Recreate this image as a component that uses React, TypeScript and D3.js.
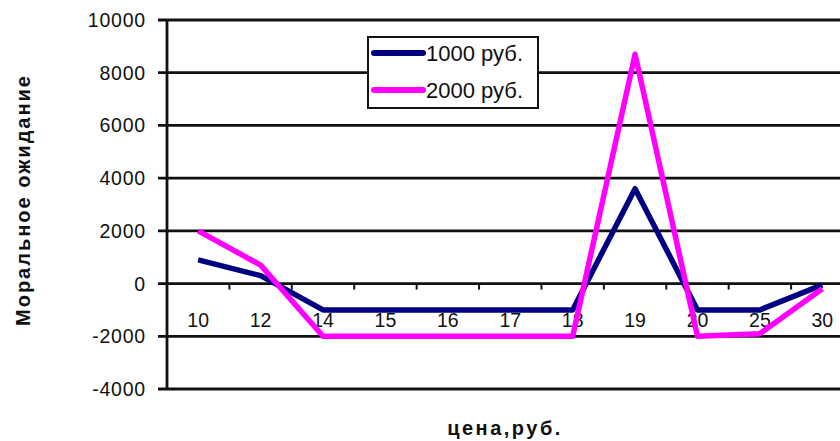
import { useEffect, useRef } from "react";
import * as d3 from "d3";

// ── Data ──────────────────────────────────────────────────────────────────────

const PRICES = ["10", "12", "14", "15", "16", "17", "18", "19", "20", "25", "30"];
const SERIES_1000 = [900, 300, -1000, -1000, -1000, -1000, -1000, 3600, -1000, -1000, -50];
const SERIES_2000 = [2000, 700, -2000, -2000, -2000, -2000, -2000, 8700, -2000, -1900, -200];
const Y_TICKS = [-4000, -2000, 0, 2000, 4000, 6000, 8000, 10000];
const SERIES_NAMES = ["1000 руб.", "2000 руб."];

// ── Config ────────────────────────────────────────────────────────────────────

const WIDTH = 840;
const HEIGHT = 441;
const PLOT = { left: 167, top: 20, bottom: 389, right: 853.5 };
const COLORS = ["#000080", "#FF00FF"];
const FONT = "'Liberation Sans', Arial, sans-serif";

// ── Component ─────────────────────────────────────────────────────────────────

const App = () => {
  const svgRef = useRef<SVGSVGElement>(null);

  useEffect(() => {
    if (!svgRef.current) return;
    document.body.style.margin = "0";

    const svg = d3.select(svgRef.current);
    svg.selectAll("*").remove();

    const x = d3.scaleBand<string>()
      .domain(PRICES)
      .range([PLOT.left, PLOT.right]);

    const y = d3.scaleLinear()
      .domain([-4000, 10000])
      .range([PLOT.bottom, PLOT.top]);

    // Grid lines + y ticks
    svg.append("g")
      .selectAll("line")
      .data(Y_TICKS)
      .join("line")
      .attr("x1", PLOT.left - 9)
      .attr("x2", WIDTH)
      .attr("y1", (d) => y(d))
      .attr("y2", (d) => y(d))
      .attr("stroke", "#111")
      .attr("stroke-width", 2.8);

    // Y axis line
    svg.append("line")
      .attr("x1", PLOT.left)
      .attr("x2", PLOT.left)
      .attr("y1", PLOT.top)
      .attr("y2", PLOT.bottom)
      .attr("stroke", "#111")
      .attr("stroke-width", 2.8);

    // Y tick labels
    svg.append("g")
      .selectAll("text")
      .data(Y_TICKS)
      .join("text")
      .attr("x", PLOT.left - 21)
      .attr("y", (d) => y(d) + 7)
      .attr("text-anchor", "end")
      .attr("font-family", FONT)
      .attr("font-size", 19.5)
      .attr("letter-spacing", 0.8)
      .attr("fill", "#111")
      .text((d) => String(d));

    // Category tick marks on the zero line (between categories)
    const boundaries = PRICES.slice(1).map((p) => x(p) ?? 0);
    svg.append("g")
      .selectAll("line")
      .data(boundaries)
      .join("line")
      .attr("x1", (d) => d)
      .attr("x2", (d) => d)
      .attr("y1", y(0))
      .attr("y2", y(0) + 6)
      .attr("stroke", "#111")
      .attr("stroke-width", 2);

    // Category labels
    svg.append("g")
      .selectAll("text")
      .data(PRICES)
      .join("text")
      .attr("x", (d) => (x(d) ?? 0) + x.bandwidth() / 2)
      .attr("y", y(0) + 43)
      .attr("text-anchor", "middle")
      .attr("font-family", FONT)
      .attr("font-size", 19.5)
      .attr("fill", "#111")
      .text((d) => d);

    // Lines
    const line = d3.line<number>()
      .x((_, i) => (x(PRICES[i]) ?? 0) + x.bandwidth() / 2)
      .y((d) => y(d));

    [SERIES_1000, SERIES_2000].forEach((series, i) => {
      svg.append("path")
        .datum(series)
        .attr("fill", "none")
        .attr("stroke", COLORS[i])
        .attr("stroke-width", 5.5)
        .attr("stroke-linejoin", "round")
        .attr("d", line);
    });

    // Legend
    const legend = svg.append("g").attr("transform", "translate(368,37)");
    legend.append("rect")
      .attr("width", 170)
      .attr("height", 71)
      .attr("fill", "white")
      .attr("stroke", "#111")
      .attr("stroke-width", 2);

    SERIES_NAMES.forEach((name, i) => {
      const cy = 16 + i * 37;
      legend.append("line")
        .attr("x1", 6)
        .attr("x2", 55)
        .attr("y1", cy)
        .attr("y2", cy)
        .attr("stroke", COLORS[i])
        .attr("stroke-width", 6)
        .attr("stroke-linecap", "round");
      legend.append("text")
        .attr("x", 58)
        .attr("y", cy + 8)
        .attr("font-family", FONT)
        .attr("font-size", 22)
        .attr("fill", "#111")
        .text(name);
    });

    // Axis titles
    svg.append("text")
      .attr("transform", `translate(30,200) rotate(-90)`)
      .attr("text-anchor", "middle")
      .attr("font-family", FONT)
      .attr("font-size", 20)
      .attr("font-weight", "bold")
      .attr("letter-spacing", 2)
      .attr("fill", "#111")
      .text("Моральное ожидание");

    svg.append("text")
      .attr("x", 505)
      .attr("y", 435)
      .attr("text-anchor", "middle")
      .attr("font-family", FONT)
      .attr("font-size", 20)
      .attr("font-weight", "bold")
      .attr("letter-spacing", 2.5)
      .attr("fill", "#111")
      .text("цена,руб.");
  }, []);

  return (
    <svg
      ref={svgRef}
      width={WIDTH}
      height={HEIGHT}
      style={{ display: "block", background: "white" }}
    />
  );
};

export default App;
